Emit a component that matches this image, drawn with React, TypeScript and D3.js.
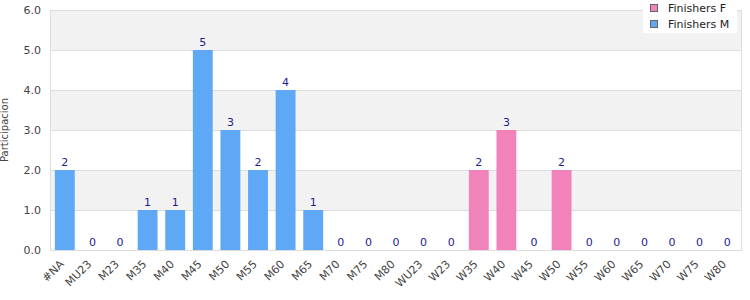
import React from "react";
import * as d3 from "d3";

const categories = ["#NA","MU23","M23","M35","M40","M45","M50","M55","M60","M65","M70","M75","M80","WU23","W23","W35","W40","W45","W50","W55","W60","W65","W70","W75","W80"];
const finishersM: (number | null)[] = [2,0,0,1,1,5,3,2,4,1,0,0,0,null,null,null,null,null,null,null,null,null,null,null,null];
const finishersF: (number | null)[] = [null,null,null,null,null,null,null,null,null,null,null,null,null,0,0,2,3,0,2,0,0,0,0,0,0];
const yTicks = [0,1,2,3,4,5,6];
const seriesNames = ["Finishers F","Finishers M"];

const W = 750, H = 300;
const left = 51, right = 741, top = 10, bottom = 250;
const colorM = "#5FA8F5";
const colorF = "#F283BA";
const font = "DejaVu Sans, Verdana, sans-serif";

export default function App() {
  const x = d3.scaleBand<string>().domain(categories).range([left, right]).paddingInner(0.28).paddingOuter(0.14);
  const y = d3.scaleLinear().domain([0, 6]).range([bottom, top]);
  const bars = categories.map((c, i) => {
    const m = finishersM[i];
    const f = finishersF[i];
    const v = (m ?? f) as number;
    const color = m !== null ? colorM : colorF;
    return { c, v, color };
  });
  return (
    <svg width={W} height={H} style={{ position: "absolute", left: 0, top: 0, fontFamily: font }}>
      {yTicks.slice(0, -1).map((t) => (
        <rect key={"band" + t} x={left - 1} y={y(t + 1)} width={right - left + 1} height={y(t) - y(t + 1)} fill={t % 2 === 1 ? "#f2f2f2" : "#ffffff"} />
      ))}
      {yTicks.map((t) => (
        <line key={"g" + t} x1={left - 1} x2={right} y1={y(t) + 0.5} y2={y(t) + 0.5} stroke="#dddddd" />
      ))}
      <line x1={left - 0.5} x2={left - 0.5} y1={top} y2={bottom} stroke="#dddddd" />
      <line x1={right + 0.5} x2={right + 0.5} y1={top} y2={bottom + 1} stroke="#dddddd" />
      {yTicks.map((t) => (
        <text key={"yl" + t} x={41} y={y(t)} dy="0.35em" textAnchor="end" fontSize={11} fill="#444">{t.toFixed(1)}</text>
      ))}
      <text transform={`translate(8,130) rotate(-90)`} textAnchor="middle" fontSize={10} fill="#444">Participacion</text>
      {bars.map((b) => (
        <g key={b.c}>
          {b.v > 0 && (
            <rect x={x(b.c)!} y={y(b.v)} width={x.bandwidth()} height={y(0) - y(b.v)} fill={b.color} />
          )}
          <text x={x(b.c)! + x.bandwidth() / 2} y={y(b.v) - 4} textAnchor="middle" fontSize={11} fill="#1c1c96">{b.v}</text>
          <text transform={`translate(${x(b.c)! + x.bandwidth() / 2 - 3},${bottom + 12}) rotate(-45)`} textAnchor="end" dy="0.35em" fontSize={11} fill="#444">{b.c}</text>
        </g>
      ))}
      <rect x={643} y={0} width={94} height={33} fill="#ffffff" />
      {seriesNames.map((s, i) => (
        <g key={s}>
          <rect x={650.5} y={4.5 + i * 16} width={7} height={7} fill={i === 0 ? colorF : colorM} stroke="#666" />
          <text x={668} y={8 + i * 16} dy="0.35em" fontSize={11} fill="#222">{s}</text>
        </g>
      ))}
    </svg>
  );
}
